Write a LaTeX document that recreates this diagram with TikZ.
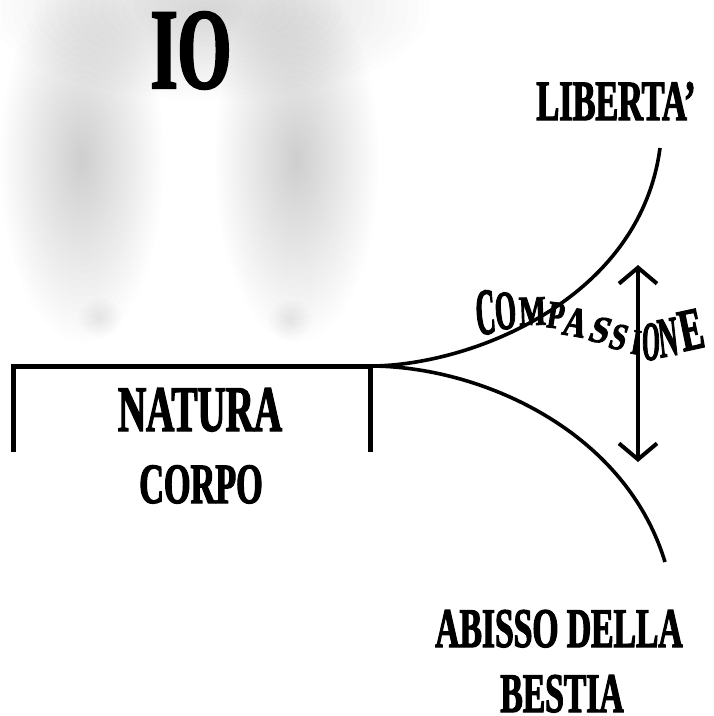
\documentclass[tikz,border=0pt]{standalone}
\usepackage{fontspec}
\newfontfamily\condserif[FakeStretch=0.6,FakeBold=2]{Liberation Serif Bold}
\usetikzlibrary{arrows.meta,positioning,calc}

\tikzset{
  lbl/.style={font=\condserif\fontsize{#1}{#1}\selectfont, inner sep=0pt, anchor=base},
  warp/.style={font=\condserif\fontsize{45}{45}\selectfont, inner sep=0pt, anchor=base},
  thick line/.style={line width=5pt},
  branch/.style={line width=3.6pt},
  dblarrow/.style={line width=4pt, {Straight Barb[length=16pt,width=38pt]}-{Straight Barb[length=16pt,width=38pt]}},
  blob/.style={fill=black, opacity=0.006}
}

\begin{document}
\begin{tikzpicture}[x=1pt,y=-1pt]
\useasboundingbox (0,0) rectangle (714,716);

% blurred figure behind IO
\begin{scope}
  \clip (0,0) rectangle (714,716);
  \foreach \k in {1,...,20}
    \fill[blob] (210,10) ellipse ({11*\k} and {4.5*\k});
  \foreach \k in {1,...,24}{
    \fill[blob] (82,160) ellipse ({3.4*\k} and {7.6*\k});
    \fill[blob] (297,160) ellipse ({3.4*\k} and {7.6*\k});
  }
  \foreach \k in {1,...,10}{
    \fill[blob] (100,318) ellipse ({2.2*\k} and {2*\k});
    \fill[blob] (290,320) ellipse ({2.2*\k} and {2*\k});
  }
\end{scope}

% points
\coordinate (natL) at (13,366);
\coordinate (split) at (370,366);
\coordinate (natLb) at (13,452);
\coordinate (splitb) at (370,452);
\coordinate (libend) at (660,148);
\coordinate (abend) at (665,562);
\coordinate (arrtop) at (638,265);
\coordinate (arrbot) at (638,462);

% natura bracket
\draw[thick line] (natLb) -- (natL) -- (split) -- (splitb);

% the two ways
\draw[branch] (split) .. controls (470,366) and (640,300) .. (libend);
\draw[branch] (split) .. controls (480,366) and (625,430) .. (abend);

% compassione
\draw[dblarrow] (arrtop) -- (arrbot);

\node[lbl=115] (io) at (191,88) {IO};
\node[lbl=57] (liberta) at (616,120) {LIBERTA’};
\node[lbl=65] (natura) at (200,431) {NATURA};
\node[lbl=57] (corpo) at (201,503) {CORPO};
\node[lbl=56] (abisso) at (559,647) {ABISSO DELLA};
\node[lbl=56] (bestia) at (562,712) {BESTIA};

\foreach \ch/\cx/\by/\hh/\ww/\rr [count=\i] in {C/487/334/44/1.0/6, O/507/329/37/1.0/6, M/533/325/28/1.05/2, P/554/328/26/1.0/-8, A/572/336/28/1.15/-12, S/596/342/25/1.3/-14, S/615/349/25/1.1/-14, I/634/354/24/0.8/-10, O/651/360/37/0.85/0, N/670/356/38/1.0/8, E/695/349/40/1.3/12}
  \node[warp, xscale=\ww, yscale=\hh/30, rotate=\rr] (cp\i) at (\cx,\by) {\ch};

\end{tikzpicture}
\end{document}
